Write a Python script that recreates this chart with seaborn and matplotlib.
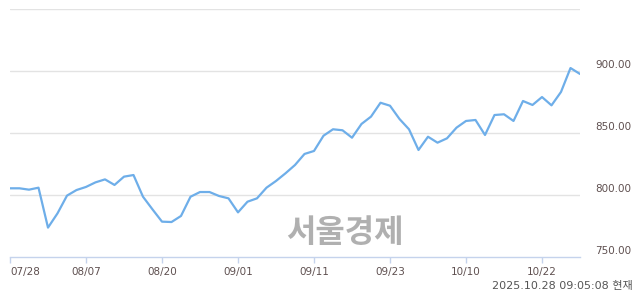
import matplotlib
matplotlib.use("Agg")
import matplotlib.pyplot as plt
import seaborn as sns
import pandas as pd

values = [805.4, 805.4, 804.3, 805.9, 773.7, 785.2, 799.5, 804.0, 806.5, 810.2,
          812.6, 808.1, 814.8, 816.1, 798.6, 788.4, 778.5, 778.2, 783.1, 798.6,
          802.4, 802.4, 799.2, 797.3, 786.0, 794.6, 797.3, 805.9, 811.3, 817.5,
          824.2, 833.1, 835.5, 847.8, 853.0, 852.2, 846.2, 857.3, 863.2, 874.4,
          872.0, 861.3, 853.0, 836.3, 847.0, 842.2, 845.7, 854.3, 859.7, 860.5,
          848.4, 864.5, 865.1, 859.7, 875.8, 872.6, 879.0, 872.3, 883.1, 902.4,
          897.6]
tick_idx = [0, 8, 16, 24, 32, 40, 48, 56]
tick_labels = ["07/28", "08/07", "08/20", "09/01", "09/11", "09/23", "10/10", "10/22"]
y_ticks = [750, 800, 850, 900]
y_labels = ["750.00", "800.00", "850.00", "900.00"]
grid_levels = [800, 850, 900, 950]

df = pd.DataFrame({"i": range(len(values)), "v": values})

sns.set_theme(style="white")
plt.rcParams["font.family"] = ["DejaVu Sans", "Noto Sans CJK KR"]

fig = plt.figure(figsize=(6.4, 2.94), dpi=100)
ax = fig.add_axes([10/640, 37/294, 570/640, 248/294])

for g in grid_levels:
    ax.axhline(g, color="#e3e3e3", lw=1, zorder=0)

sns.lineplot(data=df, x="i", y="v", ax=ax, color="#6eaee9", lw=1.6, zorder=3)

ax.set_xlim(0, 60)
ax.set_ylim(750, 950)
for s in ["top", "right", "left"]:
    ax.spines[s].set_visible(False)
ax.spines["bottom"].set_color("#c5d3ec")
ax.spines["bottom"].set_linewidth(1)

ax.set_xticks(tick_idx)
ax.set_xticklabels(tick_labels)
ax.tick_params(axis="x", direction="out", length=4, width=1, color="#c5d3ec",
               labelsize=7.5, labelcolor="#5f5050", pad=3, bottom=True)
ax.get_xticklabels()[0].set_horizontalalignment("left")
ax.set_yticks([])
ax.set_xlabel("")
ax.set_ylabel("")

px = 1 / 248
for yt, yl in zip(y_ticks, y_labels):
    ax.text(1.027, (yt - 750) / 200 + 6 * px, yl, transform=ax.transAxes, ha="left",
            va="center", fontsize=7.5, color="#5f5050")

fig.text(345/640, 1 - 233/294, "서울경제", ha="center", va="center",
         fontsize=23, fontweight="bold", color="#b0b0b0",
         family=["Noto Sans CJK KR"])
fig.text(633/640, 1 - 286/294, "2025.10.28 09:05:08 현재", ha="right",
         va="center", fontsize=8, color="#555555",
         family=["DejaVu Sans", "Noto Sans CJK KR"])

fig.savefig("out.png", dpi=100)
